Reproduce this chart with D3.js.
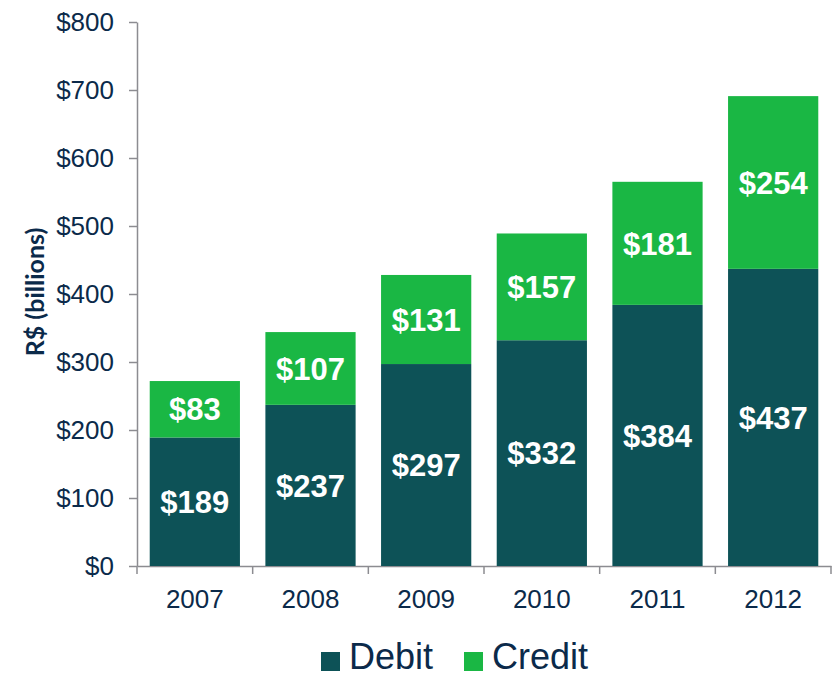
<!DOCTYPE html>
<html>
<head>
<meta charset="utf-8">
<script src="https://cdn.jsdelivr.net/npm/d3@7"></script>
<style>
  body { margin: 0; background: #fff; }
  .axis text { font-family: "Liberation Sans", Arial, sans-serif; fill: #0b2a4a; }
  .axis path, .axis line { stroke: #8c8c91; stroke-width: 1.5px; }
</style>
</head>
<body>
<div id="chart"></div>
<script>
const years = ["2007", "2008", "2009", "2010", "2011", "2012"];
const debit = [189, 237, 297, 332, 384, 437];
const credit = [83, 107, 131, 157, 181, 254];
const yTicks = [0, 100, 200, 300, 400, 500, 600, 700, 800];
const seriesNames = ["Debit", "Credit"];
const colors = ["#0d5257", "#1ab744"];

const width = 832;
const height = 677;

const margin = {
    top: 22,
    left: 137,
    right: 1,
    bottom: 111
};

const svg = d3.select("#chart")
    .append("svg")
    .attr("width", width)
    .attr("height", height);

const rows = years.map(function(y, i) {
    return { year: y, Debit: debit[i], Credit: credit[i] };
});
const stacked = d3.stack().keys(seriesNames)(rows);

const xScale = d3.scaleBand()
    .domain(years)
    .range([margin.left, width - margin.right])
    .paddingInner(0.22)
    .paddingOuter(0.11);

const yScale = d3.scaleLinear()
    .domain([0, 800])
    .range([height - margin.bottom, margin.top]);

// y axis
const yAxis = svg.append("g")
    .attr("class", "axis")
    .attr("transform", `translate(${margin.left},0)`)
    .call(d3.axisLeft(yScale).tickValues(yTicks).tickSize(8).tickSizeOuter(0).tickPadding(15)
        .tickFormat(function(d) { return "$" + d; }));
yAxis.selectAll("text").style("font-size", "26px");

// x axis, ticks sit on the band edges
const xAxis = svg.append("g")
    .attr("class", "axis")
    .attr("transform", `translate(0,${height - margin.bottom})`)
    .call(d3.axisBottom(xScale).tickSize(0).tickPadding(24));
xAxis.selectAll("text").style("font-size", "26px").attr("dy", "0.71em");

const step = xScale.step();
const edges = d3.range(years.length + 1).map(function(i) { return margin.left + i * step; });
xAxis.selectAll(".edge")
    .data(edges)
    .enter()
    .append("line")
    .attr("class", "edge")
    .attr("x1", d => d).attr("x2", d => d)
    .attr("y1", 0).attr("y2", 8);

// bars
const layers = svg.selectAll(".layer")
    .data(stacked)
    .enter()
    .append("g")
    .attr("class", "layer")
    .attr("fill", function(d, i) { return colors[i]; });

layers.selectAll("rect")
    .data(d => d)
    .enter()
    .append("rect")
    .attr("x", d => xScale(d.data.year))
    .attr("y", d => yScale(d[1]))
    .attr("width", xScale.bandwidth())
    .attr("height", d => yScale(d[0]) - yScale(d[1]));

layers.selectAll("text")
    .data(d => d)
    .enter()
    .append("text")
    .attr("x", d => xScale(d.data.year) + xScale.bandwidth() / 2)
    .attr("y", d => (yScale(d[0]) + yScale(d[1])) / 2)
    .attr("dy", "0.36em")
    .attr("text-anchor", "middle")
    .style("font-family", "'Liberation Sans', Arial, sans-serif")
    .style("font-weight", "bold")
    .style("font-size", "31px")
    .attr("fill", "#fff")
    .text(d => "$" + (d[1] - d[0]));

// axis title
svg.append("text")
    .attr("transform", "rotate(-90)")
    .attr("x", -292)
    .attr("y", 44)
    .attr("text-anchor", "middle")
    .style("font-family", "Lato, 'Open Sans', sans-serif")
    .style("font-weight", "bold")
    .style("font-size", "25px")
    .attr("fill", "#0b2a4a")
    .text("R$ (billions)");

// legend
const legendX = [321, 464];
const legend = svg.selectAll(".legend")
    .data(seriesNames)
    .enter()
    .append("g")
    .attr("class", "legend")
    .attr("transform", function(d, i) { return `translate(${legendX[i]},652)`; });

legend.append("rect")
    .attr("width", 19)
    .attr("height", 19)
    .attr("fill", function(d, i) { return colors[i]; });

legend.append("text")
    .attr("x", 28)
    .attr("y", 17)
    .style("font-family", "'Liberation Sans', Arial, sans-serif")
    .style("font-size", "36px")
    .attr("fill", "#0b2a4a")
    .text(d => d);
</script>
</body>
</html>
